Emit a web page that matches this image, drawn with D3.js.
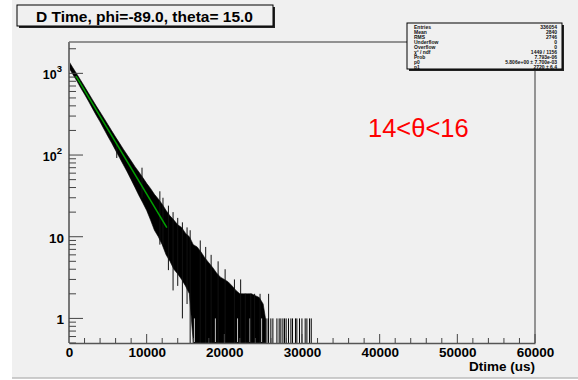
<!DOCTYPE html>
<html><head><meta charset="utf-8">
<script src="https://cdn.jsdelivr.net/npm/d3@7"></script>
<style>html,body{margin:0;padding:0;background:#fff;}svg{display:block;}</style>
</head><body>
<script>
// ---------- data ----------
const title = "D Time, phi=-89.0, theta= 15.0";
const xTicks = [0, 10000, 20000, 30000, 40000, 50000, 60000];
const yTicks = [1, 10, 100, 1000];
const xLabel = "Dtime (us)";
const rangeLabel = "14<θ<16";
// histogram envelope (x in us, counts); 0 = empty bins (drawn to the bottom)
const bandX  = [0,500,1000,1500,2000,2500,3000,3500,4000,4500,5000,5500,6000,6500,7000,7500,8000,8500,9000,9500,10000,10500,11000,11500,12000,12500,13000,13500,14000,14500,15000,15500,16000,16500,17000,17500,18000,18500,19000,19500,20000,20500,21000,21500,22000,22500,23000,23500,24000,24500,25000,25300];
const bandLo = [1170,970,810,665,555,458,375,308,255,208,170,140,114,93,76,62,50,40,32,26,21,16,12,10,8,6,5,4,3.5,3,2.5,2,0,0,0,0,0,0,0,0,0,0,0,0,0,0,0,0,0,0,0,0];
const bandHi = [1400,1170,985,825,690,575,480,400,337,283,237,198,166,140,118,100,85,72,62,53,45,39,33,29,25,21,18,16,14,13,11,10,8,7.5,6.5,5.5,4.8,4.2,3.6,3.2,3,2.8,2.5,2.2,2,2,2,2,1.9,1.8,1.5,1];
// bins sticking out of the band (x in us, low and high count)
const spikeX  = [6150,9400,11700,12100,12800,13400,14000,14600,15200,15600,16900,17600,18300,19200,20100,21300,22100,22700,23400,23900,24600,25700];
const spikeLo = [92,30,8,8,3.9,2.2,2.5,1,1.5,0.5,0,0,0,0,0,0,0,0,0,0,0,0];
const spikeHi = [140,70,36,30,24,20,17,15,13,12,9,7.5,6,5,4,3,3,2,2,2,2,2];
// empty stretches inside the dense low-count region (x in us, height reached by the gap)
const gapX   = [16150,18850,21700,23300,24800];
const gapTop = [1,1,1,1,1];
// isolated bins in the tail (x in us, count)
const tailX   = [25260,25480,25680,25990,26250,26770,27060,27280,27540,27750,27960,28260,28570,28780,29160,29340,29680,29990,30410,30630,30970,31190];
const tailTop = [1,1,1,1,1,1,1,1,1,1,1,1,1,1,1,1,1,1,1,1,1,1];
// fit (exponential, straight on the log axis) end points
const fitX = [900, 12600];
const fitY = [925, 12.9];
// statistics box
const statNames  = ["Entries","Mean","RMS","Underflow","Overflow","χ² / ndf","Prob","p0","p1"];
const statValues = ["336054","2840","2746","0","0","1449 / 1156","7.793e-06","5.806e+00 ± 7.700e-03","2720 ± 6.4"];

// ---------- drawing ----------
const W = 578, H = 380;
const bg = "#f0f0f0";
const svg = d3.select("body").append("svg").attr("width", W).attr("height", H);
svg.append("rect").attr("x", 12).attr("y", 0).attr("width", W - 12).attr("height", 378).attr("fill", bg);
svg.append("line").attr("x1", 12).attr("x2", W).attr("y1", 378).attr("y2", 378).attr("stroke", "#bdbdbd").attr("stroke-width", 1.5);

const fL = 69, fR = 535, fT = 42, fB = 343;
const x = d3.scaleLinear().domain([0, 60000]).range([fL, fR]);
const y = d3.scaleLog().domain([0.5, 2420]).range([fB, fT]);
const yv = v => v <= 0.5 ? fB : y(v);

const font = "'Liberation Sans', Arial, Helvetica, sans-serif";

// histogram band
const area = d3.area().x((d, i) => x(bandX[i])).y0((d, i) => yv(bandLo[i])).y1((d, i) => yv(bandHi[i]));
svg.append("path").attr("d", area(bandX)).attr("fill", "#000").attr("stroke", "#000").attr("stroke-width", 0.6);

// empty stretches
svg.append("g").selectAll("line").data(gapX).join("line")
  .attr("x1", d => x(d)).attr("x2", d => x(d))
  .attr("y1", fB - 1).attr("y2", (d, i) => yv(gapTop[i]))
  .attr("stroke", bg).attr("stroke-width", 0.8);

// spikes
svg.append("g").selectAll("line").data(spikeX).join("line")
  .attr("x1", d => x(d)).attr("x2", d => x(d))
  .attr("y1", (d, i) => yv(spikeLo[i])).attr("y2", (d, i) => yv(spikeHi[i]))
  .attr("stroke", "#111").attr("stroke-width", 1);

// tail bins
svg.append("g").selectAll("line").data(tailX).join("line")
  .attr("x1", d => x(d)).attr("x2", d => x(d))
  .attr("y1", fB).attr("y2", (d, i) => yv(tailTop[i]))
  .attr("stroke", "#000").attr("stroke-width", 1);

// fit
svg.append("line").attr("x1", x(fitX[0])).attr("y1", y(fitY[0])).attr("x2", x(fitX[1])).attr("y2", y(fitY[1]))
  .attr("stroke", "#00a000").attr("stroke-width", 1.5);

// frame
svg.append("line").attr("x1", fL).attr("x2", fR).attr("y1", fT).attr("y2", fT).attr("stroke", "#333").attr("stroke-width", 1);
svg.append("line").attr("x1", fR).attr("x2", fR).attr("y1", fT).attr("y2", fB).attr("stroke", "#555").attr("stroke-width", 1.2);

// x axis
const xAxis = d3.axisBottom(x).tickValues(xTicks).tickSize(0).tickFormat(d3.format("d"));
const gx = svg.append("g").attr("transform", `translate(0,${fB})`).call(xAxis);
gx.select(".domain").attr("stroke", "#555").attr("stroke-width", 1.5);
gx.selectAll("text").attr("font-family", font).attr("font-weight", "bold").attr("font-size", 13.5).attr("fill", "#000").attr("dy", 0).attr("y", 14);
const xMinor = d3.range(0, 60001, 2000);
svg.append("g").selectAll("line").data(xMinor).join("line")
  .attr("x1", d => x(d)).attr("x2", d => x(d)).attr("y1", fB)
  .attr("y2", d => fB - (d % 10000 === 0 ? 9 : 5)).attr("stroke", "#444").attr("stroke-width", 1);

// y axis
svg.append("line").attr("x1", fL).attr("x2", fL).attr("y1", fT).attr("y2", fB).attr("stroke", "#777").attr("stroke-width", 2);
const yMinor = [];
[0.1, 1, 10, 100, 1000].forEach(dec => { for (let k = 1; k <= 9; k++) { const v = dec * k; if (v >= 0.5 && v <= 2420) yMinor.push(v); } });
svg.append("g").selectAll("line").data(yMinor).join("line")
  .attr("x1", fL).attr("x2", d => fL + (yTicks.includes(d) ? 14 : 7))
  .attr("y1", d => y(d)).attr("y2", d => y(d)).attr("stroke", "#444").attr("stroke-width", 1);
const yl = svg.append("g").selectAll("text").data(yTicks).join("text")
  .attr("x", d => d < 100 ? 64 : 62).attr("y", d => y(d) + 6).attr("text-anchor", "end")
  .attr("font-family", font).attr("font-weight", "bold").attr("font-size", d => d < 100 ? 13.5 : 12.5).attr("fill", "#000");
yl.each(function(d) {
  const t = d3.select(this);
  if (d < 100) { t.text(String(d)); }
  else {
    t.append("tspan").text("10");
    t.append("tspan").attr("dy", -7).attr("font-size", 9.5).text(String(Math.round(Math.log10(d))));
  }
});

// axis title
svg.append("text").attr("x", fR).attr("y", 371).attr("text-anchor", "end")
  .attr("font-family", font).attr("font-weight", "bold").attr("font-size", 13.5).text(xLabel);

// title box
svg.append("rect").attr("x", 19).attr("y", 7).attr("width", 256).attr("height", 21).attr("fill", "#222");
svg.append("rect").attr("x", 17).attr("y", 5).attr("width", 256).attr("height", 21).attr("fill", bg).attr("stroke", "#000").attr("stroke-width", 1);
svg.append("text").attr("x", 36).attr("y", 21.5).attr("textLength", 217).attr("lengthAdjust", "spacingAndGlyphs")
  .attr("font-family", font).attr("font-weight", "bold").attr("font-size", 14.5).text(title);

// stats box
svg.append("rect").attr("x", 409).attr("y", 25).attr("width", 155).attr("height", 46).attr("fill", "#222");
svg.append("rect").attr("x", 407).attr("y", 23).attr("width", 155).attr("height", 46).attr("fill", bg).attr("stroke", "#000").attr("stroke-width", 1);
statNames.forEach((n, i) => {
  svg.append("text").attr("x", 414).attr("y", 28.5 + i * 5.05).attr("font-family", font).attr("font-weight", "bold")
    .attr("font-size", 5).attr("fill", "#111").text(n);
  svg.append("text").attr("x", 557).attr("y", 28.5 + i * 5.05).attr("text-anchor", "end").attr("font-family", font)
    .attr("font-weight", "bold").attr("font-size", 5).attr("fill", "#111").text(statValues[i]);
});

// range label
svg.append("text").attr("x", 368).attr("y", 137).attr("font-family", font).attr("font-size", 25.5)
  .attr("fill", "#ff0000").text(rangeLabel);
</script>
</body></html>
